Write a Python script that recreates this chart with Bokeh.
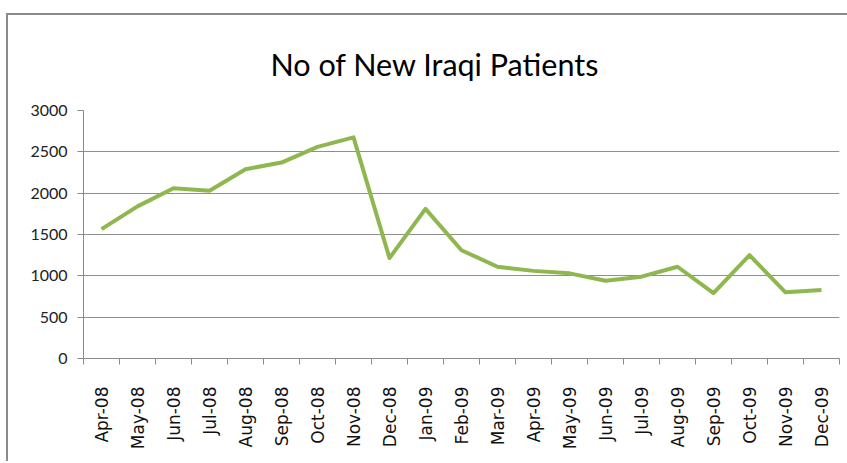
from bokeh.plotting import figure
from bokeh.models import Range1d, FixedTicker, ColumnDataSource
from bokeh.embed import file_html
from bokeh.resources import INLINE
import math

months = ["Apr-08", "May-08", "Jun-08", "Jul-08", "Aug-08", "Sep-08", "Oct-08",
          "Nov-08", "Dec-08", "Jan-09", "Feb-09", "Mar-09", "Apr-09", "May-09",
          "Jun-09", "Jul-09", "Aug-09", "Sep-09", "Oct-09", "Nov-09", "Dec-09"]
patients = [1565, 1840, 2060, 2030, 2290, 2370, 2560, 2675, 1215, 1810, 1310,
            1110, 1060, 1030, 940, 990, 1110, 790, 1250, 800, 828]
y_ticks = [0, 500, 1000, 1500, 2000, 2500, 3000]
title_text = "No of New Iraqi Patients"

xpos = [i + 0.5 for i in range(len(months))]
src = ColumnDataSource(dict(x=xpos, y=patients))

p = figure(width=841, height=448, output_backend="svg", toolbar_location=None,
           x_range=Range1d(0, len(months)), y_range=Range1d(0, 3000),
           min_border_left=75, min_border_right=10, min_border_top=94,
           min_border_bottom=105, title=title_text)
p.margin = (13, 0, 0, 6)
p.styles = {"border-top": "2px solid #8a8a8a", "border-left": "2px solid #8a8a8a"}
p.outline_line_color = None
p.background_fill_color = "white"
p.border_fill_color = "white"

p.title.text_font = "Lato"
p.title.text_font_size = "30.5px"
p.title.text_font_style = "normal"
p.title.align = "left"
p.title.offset = 187
p.title.text_color = "#000000"
p.title.standoff = 57

p.line("x", "y", source=src, line_color="#8fb74f", line_width=4, line_join="round")

# x axis
xa = p.xaxis[0]
xa.ticker = FixedTicker(ticks=xpos, minor_ticks=list(range(len(months) + 1)))
xa.major_label_overrides = {x: m for x, m in zip(xpos, months)}
xa.major_label_orientation = math.pi / 2
xa.major_tick_line_color = None
xa.major_tick_out = 0
xa.major_tick_in = 0
xa.minor_tick_out = 6
xa.minor_tick_in = 0
xa.minor_tick_line_color = "#8a8a8a"
xa.axis_line_color = "#8a8a8a"
xa.major_label_text_font = "DejaVu Sans"
xa.major_label_text_font_size = "17px"
xa.major_label_text_color = "#111111"
xa.major_label_standoff = 22

# y axis
ya = p.yaxis[0]
ya.ticker = FixedTicker(ticks=y_ticks)
ya.major_tick_out = 6
ya.major_tick_in = 0
ya.minor_tick_line_color = None
ya.major_tick_line_color = "#8a8a8a"
ya.axis_line_color = "#8a8a8a"
ya.major_label_text_font = "Lato"
ya.major_label_text_font_size = "16px"
ya.major_label_text_color = "#222222"
ya.major_label_standoff = 10

p.xgrid.grid_line_color = None
p.ygrid.ticker = FixedTicker(ticks=y_ticks)
p.ygrid.grid_line_color = "#8f8f8f"
p.ygrid.grid_line_width = 1

open("out.html", "w").write(file_html(p, INLINE))
